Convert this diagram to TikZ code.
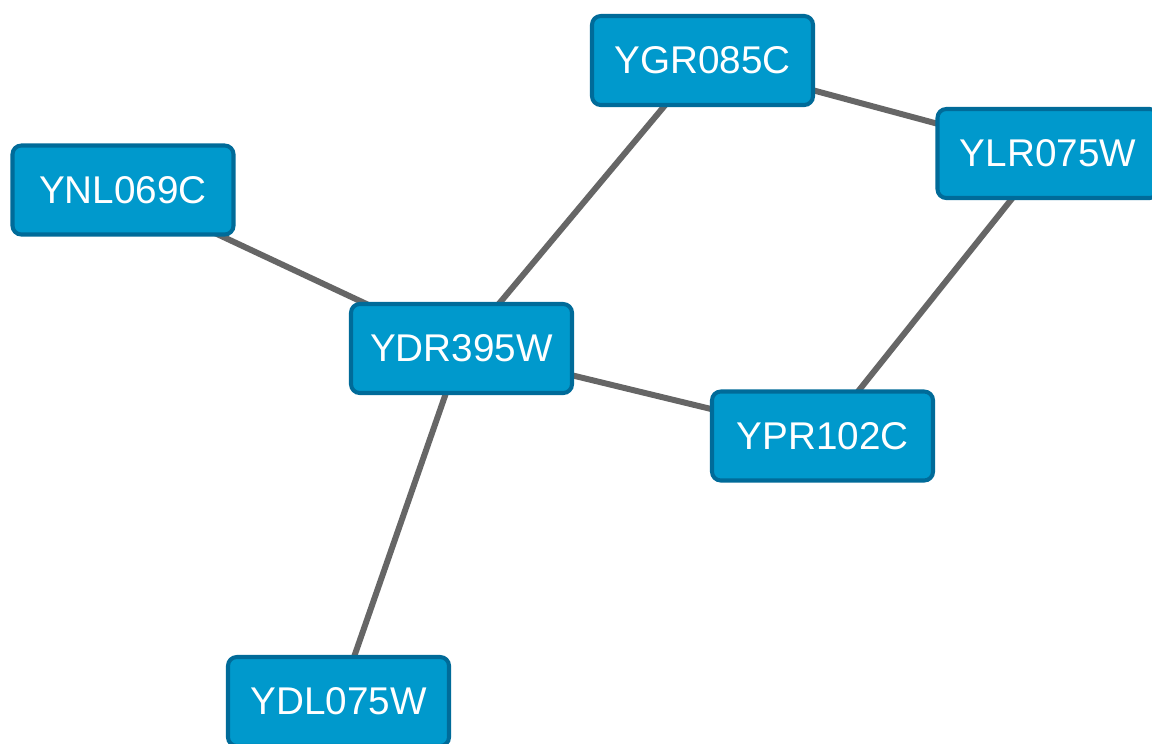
\documentclass[tikz,border=0pt]{standalone}
\usepackage{fontspec}
\setmainfont{Liberation Sans}
\usetikzlibrary{backgrounds}
\definecolor{GeneFill}{HTML}{0099CC}
\definecolor{GeneBorder}{HTML}{006B99}
\definecolor{EdgeGray}{HTML}{666666}
\tikzset{
    gene/.style={rectangle, draw=GeneBorder, fill=GeneFill, text=white, line width=2.3pt, minimum width=4.42cm, minimum height=1.78cm, rounded corners=5pt, font=\fontsize{22}{26}\selectfont},
    link/.style={draw=EdgeGray, line width=3.4pt},
}

\begin{document}
\begin{tikzpicture}

\useasboundingbox (0,0) rectangle (23.04,-14.86);

% Genes
\node[gene] (ygr) at (14.05,-1.21) {YGR085C};
\node[gene] (ylr) at (20.96,-3.07) {YLR075W};
\node[gene] (ynl) at (2.46,-3.80) {YNL069C};
\node[gene] (ydr) at (9.23,-6.97) {YDR395W};
\node[gene] (ypr) at (16.45,-8.72) {YPR102C};
\node[gene] (ydl) at (6.77,-14.03) {YDL075W};

% Interactions
\begin{scope}[on background layer]
\fill[white] (0,0) rectangle (23.04,-14.86);
\draw[link] (ynl.center) -- (ydr.center);
\draw[link] (ygr.center) -- (ydr.center);
\draw[link] (ygr.center) -- (ylr.center);
\draw[link] (ylr.center) -- (ypr.center);
\draw[link] (ydr.center) -- (ypr.center);
\draw[link] (ydr.center) -- (ydl.center);
\end{scope}

\end{tikzpicture}
\end{document}
